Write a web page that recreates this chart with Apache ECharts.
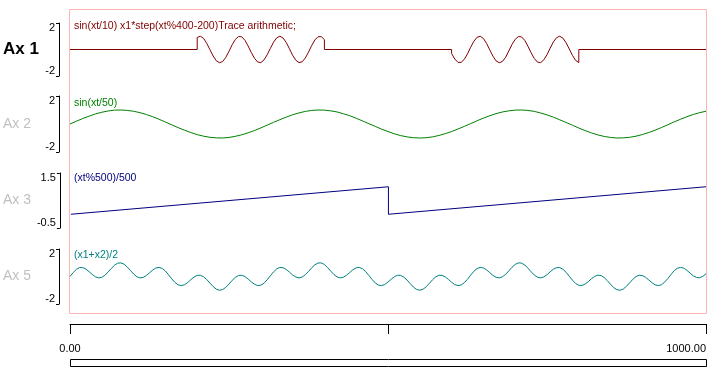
<!DOCTYPE html>
<html><head><meta charset="utf-8">
<script src="https://cdn.jsdelivr.net/npm/echarts@6/dist/echarts.min.js"></script>
<style>html,body{margin:0;padding:0;background:#fff}#c{width:716px;height:367px}</style>
</head><body><div id="c"></div>
<script>
// ---- data ----
const xMin = 0, xMax = 1000, xInterval = 500;
const xTickLabels = { 0: '0.00', 500: '', 1000: '1000.00' };
const fastStep = 5;   // sample spacing of the fast traces (x units)
const slowStep = 10;  // sample spacing of the slow trace (x units)
const panelNames = ['Ax 1', 'Ax 2', 'Ax 3', 'Ax 5'];
const traceTitles = ['sin(xt/10) x1*step(xt%400-200)Trace arithmetic;', 'sin(xt/50)', '(xt%500)/500', '(x1+x2)/2'];
const yMins = [-2, -2, -0.5, -2];
const yMaxs = [2, 2, 1.5, 2];
const yTickLabels = [['-2', '2'], ['-2', '2'], ['-0.5', '1.5'], ['-2', '2']];
const traceColors = ['#800000', '#008000', '#000080', '#008080'];

// trace 1: gated fast sine, x = 200..400 and 600..800 (step 5), zero elsewhere
const trace1Baseline = 0;
const trace1WaveStarts = [200, 600];
const trace1WaveA = [
  0.91, 1, 0.84, 0.47, -0.01, -0.49, -0.85, -1, -0.91, -0.59,
  -0.13, 0.36, 0.76, 0.98, 0.96, 0.7, 0.27, -0.22, -0.66, -0.94,
  -0.99, -0.79, -0.4, 0.08, 0.55, 0.88, 1, 0.87, 0.53, 0.06,
  -0.43, -0.81, -0.99, -0.93, -0.64, -0.2, 0.3, 0.72, 0.96, 0.97,
  0.75];
const trace1WaveB = [
  -0.3, -0.72, -0.97, -0.97, -0.74, -0.33, 0.17, 0.62, 0.92, 1,
  0.83, 0.46, -0.03, -0.5, -0.86, -1, -0.9, -0.58, -0.11, 0.38,
  0.77, 0.98, 0.95, 0.69, 0.25, -0.24, -0.68, -0.95, -0.99, -0.78,
  -0.39, 0.1, 0.57, 0.89, 1, 0.86, 0.51, 0.04, -0.44, -0.82,
  -0.99];
// trace 2: slow sine, x = 0..1000 step 10
const trace2 = [
  0, 0.2, 0.39, 0.56, 0.72, 0.84, 0.93, 0.99, 1, 0.97,
  0.91, 0.81, 0.68, 0.52, 0.34, 0.14, -0.06, -0.26, -0.44, -0.61,
  -0.76, -0.87, -0.95, -0.99, -1, -0.96, -0.88, -0.77, -0.63, -0.47,
  -0.28, -0.08, 0.12, 0.31, 0.49, 0.66, 0.79, 0.9, 0.97, 1,
  0.99, 0.94, 0.86, 0.73, 0.59, 0.41, 0.22, 0.02, -0.17, -0.37,
  -0.54, -0.7, -0.83, -0.92, -0.98, -1, -0.98, -0.92, -0.82, -0.69,
  -0.54, -0.36, -0.17, 0.03, 0.23, 0.42, 0.59, 0.74, 0.86, 0.94,
  0.99, 1, 0.97, 0.9, 0.79, 0.65, 0.49, 0.3, 0.11, -0.09,
  -0.29, -0.47, -0.64, -0.78, -0.89, -0.96, -1, -0.99, -0.95, -0.87,
  -0.75, -0.61, -0.44, -0.25, -0.05, 0.15, 0.34, 0.52, 0.68, 0.81,
  0.91];
// trace 3: sawtooth
const trace3X = [0, 500, 500, 1000];
const trace3Y = [0, 1, 0, 1];
// trace 5: mix, x = 0..1000 step 5
const trace5 = [
  0, 0.29, 0.52, 0.65, 0.65, 0.54, 0.35, 0.15, -0.02, -0.1,
  -0.06, 0.09, 0.33, 0.59, 0.82, 0.97, 0.99, 0.9, 0.69, 0.44,
  0.18, -0.01, -0.1, -0.07, 0.07, 0.27, 0.47, 0.62, 0.66, 0.59,
  0.4, 0.12, -0.17, -0.43, -0.61, -0.66, -0.6, -0.44, -0.23, -0.04,
  0.08, 0.09, -0.02, -0.22, -0.48, -0.73, -0.92, -1, -0.95, -0.79,
  -0.55, -0.28, -0.06, 0.07, 0.09, 0, -0.18, -0.39, -0.56, -0.66,
  -0.63, -0.49, -0.24, 0.05, 0.33, 0.55, 0.66, 0.64, 0.51, 0.32,
  0.11, -0.04, -0.1, -0.04, 0.13, 0.37, 0.63, 0.85, 0.98, 0.99,
  0.87, 0.65, 0.39, 0.14, -0.03, -0.1, -0.05, 0.1, 0.3, 0.5,
  0.63, 0.66, 0.56, 0.35, 0.07, -0.22, -0.47, -0.63, -0.66, -0.58,
  -0.4, -0.2, -0.02, 0.09, 0.08, -0.05, -0.26, -0.52, -0.77, -0.94,
  -1, -0.93, -0.75, -0.5, -0.24, -0.03, 0.09, 0.08, -0.03, -0.21,
  -0.42, -0.59, -0.66, -0.62, -0.45, -0.2, 0.1, 0.38, 0.58, 0.66,
  0.62, 0.48, 0.28, 0.08, -0.06, -0.1, -0.02, 0.16, 0.41, 0.67,
  0.88, 0.99, 0.97, 0.84, 0.61, 0.35, 0.11, -0.05, -0.1, -0.03,
  0.13, 0.34, 0.53, 0.64, 0.65, 0.53, 0.31, 0.02, -0.27, -0.51,
  -0.64, -0.65, -0.55, -0.37, -0.16, 0.01, 0.1, 0.07, -0.08, -0.31,
  -0.57, -0.81, -0.96, -1, -0.91, -0.71, -0.46, -0.2, 0, 0.09,
  0.07, -0.06, -0.25, -0.45, -0.61, -0.66, -0.6, -0.41, -0.15, 0.15,
  0.42, 0.6, 0.66, 0.61, 0.45, 0.25, 0.05, -0.07, -0.09, 0.01,
  0.2];

// ---- build ----
const FONT = '"Liberation Sans", Arial, sans-serif';
const toXY = (arr, x0, step) => arr.map((v, i) => [x0 + i * step, v]);
const waveLen = (trace1WaveA.length - 1) * fastStep;

const flat1 = [];
flat1.push([xMin, trace1Baseline]);
[trace1WaveA, trace1WaveB].forEach((w, j) => {
  const s = trace1WaveStarts[j], e = s + waveLen;
  flat1.push([s, trace1Baseline], [s, w[0]], [(s + e) / 2, '-'], [e, w[w.length - 1]], [e, trace1Baseline]);
});
flat1.push([xMax, trace1Baseline]);

const grids = [
  { top: 23, height: 53 }, { top: 96, height: 56 }, { top: 173, height: 55 }, { top: 249, height: 55 }, { top: 314, height: 10 }
].map(g => Object.assign({ left: 70, right: 10 }, g));

const xAxes = [0, 1, 2, 3].map(i => ({ gridIndex: i, type: 'value', min: xMin, max: xMax, show: false }));
xAxes.push({
  gridIndex: 4, type: 'value', min: xMin, max: xMax, interval: xInterval, position: 'bottom',
  axisLine: { show: true, lineStyle: { color: '#000', width: 1 } },
  axisTick: { show: true, length: 10, inside: false, lineStyle: { color: '#000', width: 1 } },
  axisLabel: { show: true, margin: 19, fontSize: 11, color: '#000', fontFamily: FONT,
    formatter: v => xTickLabels[v] ?? '', alignMaxLabel: 'right', alignMinLabel: 'center' },
  splitLine: { show: false }
});

const yAxes = [0, 1, 2, 3].map(i => ({
  gridIndex: i, type: 'value', min: yMins[i], max: yMaxs[i], offset: 11, position: 'left',
  axisLine: { show: true, onZero: false, lineStyle: { color: '#000', width: 1 } },
  axisTick: { show: true, length: 3, inside: false, customValues: [yMins[i], yMaxs[i]], lineStyle: { color: '#000', width: 1 } },
  axisLabel: { show: true, customValues: [yMins[i], yMaxs[i]], margin: 4, fontSize: 11, color: '#000', fontFamily: FONT,
    formatter: v => v === yMaxs[i] ? '{t|' + yTickLabels[i][1] + '}' : '{b|' + yTickLabels[i][0] + '}',
    rich: { t: { padding: [9, 0, 0, 0], fontSize: 11, color: '#000', fontFamily: FONT },
            b: { padding: [0, 0, 11, 0], fontSize: 11, color: '#000', fontFamily: FONT } } },
  splitLine: { show: false },
  name: panelNames[i], nameLocation: 'middle', nameRotate: 0, nameGap: 56,
  nameTextStyle: { align: 'left', fontFamily: FONT, fontSize: i === 0 ? 17 : 14, fontWeight: i === 0 ? 'bold' : 'normal',
    color: i === 0 ? '#000' : '#c0c0c0', padding: i === 0 ? [0, 0, 6, 0] : 0 }
}));
yAxes.push({ gridIndex: 4, type: 'value', show: false });

const lineSeries = (i, data) => ({ type: 'line', xAxisIndex: i, yAxisIndex: i, showSymbol: false, symbol: 'none',
  connectNulls: false, lineStyle: { color: traceColors[i], width: 1 }, itemStyle: { color: traceColors[i] },
  animation: false, data: data });

const series = [
  lineSeries(0, flat1),
  lineSeries(0, toXY(trace1WaveA, trace1WaveStarts[0], fastStep)),
  lineSeries(0, toXY(trace1WaveB, trace1WaveStarts[1], fastStep)),
  lineSeries(1, toXY(trace2, xMin, slowStep)),
  lineSeries(2, trace3X.map((x, k) => [x, trace3Y[k]])),
  lineSeries(3, toXY(trace5, xMin, fastStep))
];

const titleTops = [21, 98, 173, 250];
const titles = traceTitles.map((t, i) => ({
  text: t, left: 74, top: titleTops[i], padding: 0,
  textStyle: { fontSize: 10.5, fontWeight: 'normal', color: traceColors[i], fontFamily: FONT }
}));

const chart = echarts.init(document.getElementById('c'), null, { renderer: 'canvas' });
chart.setOption({
  backgroundColor: '#fff',
  animation: false,
  title: titles,
  grid: grids,
  xAxis: xAxes,
  yAxis: yAxes,
  series: series,
  graphic: [
    { type: 'rect', z: -1, silent: true, shape: { x: 69.5, y: 9.5, width: 637, height: 304 },
      style: { fill: null, stroke: '#ffb4b4', lineWidth: 1 } },
    { type: 'rect', silent: true, shape: { x: 70.5, y: 359.5, width: 636, height: 7 },
      style: { fill: null, stroke: '#000', lineWidth: 1 } }
  ]
});
</script></body></html>
